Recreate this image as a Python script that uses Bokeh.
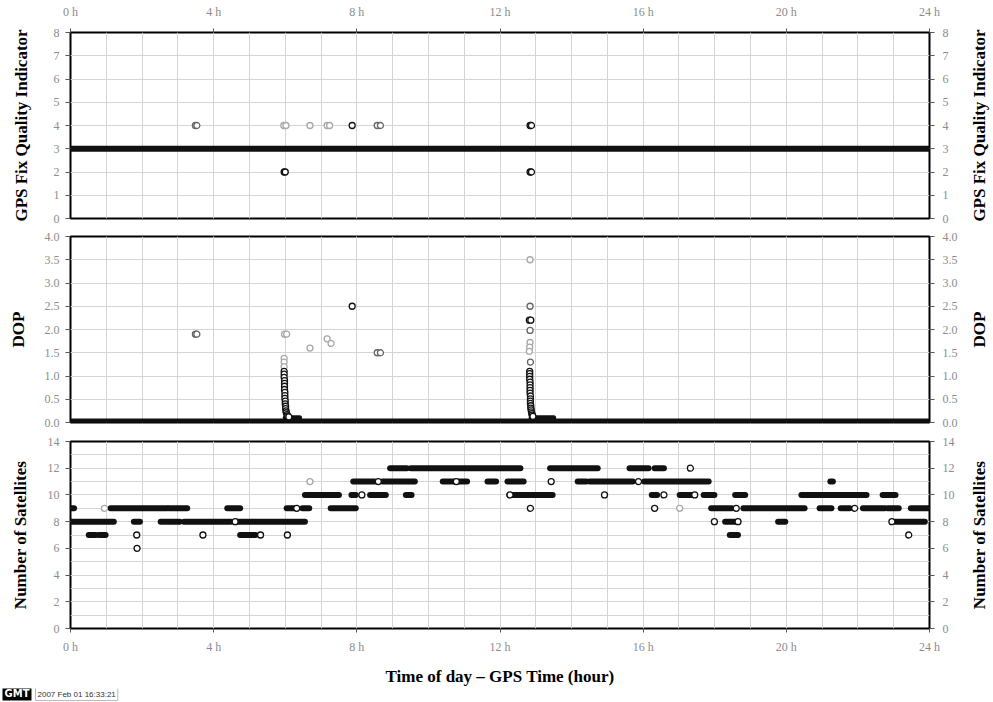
import math
from bokeh.plotting import figure
from bokeh.models import (Range1d, LinearAxis, FixedTicker, ColumnDataSource, Label, Grid)
from bokeh.layouts import column, row
from bokeh.embed import file_html
from bokeh.resources import INLINE

# ---------------- data ----------------
hour_ticks = [0, 4, 8, 12, 16, 20, 24]
hour_labels = ["0 h", "4 h", "8 h", "12 h", "16 h", "20 h", "24 h"]
hour_minor = list(range(0, 25))

fix_ticks = [0, 1, 2, 3, 4, 5, 6, 7, 8]
fix_labels = ["0", "1", "2", "3", "4", "5", "6", "7", "8"]
dop_ticks = [0.0, 0.5, 1.0, 1.5, 2.0, 2.5, 3.0, 3.5, 4.0]
dop_labels = ["0.0", "0.5", "1.0", "1.5", "2.0", "2.5", "3.0", "3.5", "4.0"]
sat_ticks = [0, 2, 4, 6, 8, 10, 12, 14]
sat_labels = ["0", "2", "4", "6", "8", "10", "12", "14"]
sat_minor = list(range(0, 15))

fix_title = "GPS Fix Quality Indicator"
dop_title = "DOP"
sat_title = "Number of Satellites"
x_title = "Time of day \u2013 GPS Time (hour)"
logo_text = "GMT"
stamp_text = "2007 Feb 01 16:33:21"

# GPS fix quality indicator
fix_run_start = [0.0]
fix_run_end = [24.0]
fix_run_value = [3]
fix_dark_t = [7.87, 12.84, 12.88, 5.97, 6.00, 12.84, 12.88]
fix_dark_v = [4, 4, 4, 2, 2, 2, 2]
fix_mid_t = [3.49, 3.53, 8.57, 8.66]
fix_mid_v = [4, 4, 4, 4]
fix_light_t = [5.96, 6.02, 6.69, 7.17, 7.24]
fix_light_v = [4, 4, 4, 4, 4]

# DOP
dop_run_start = [0.0, 6.00, 12.87]
dop_run_end = [24.0, 6.40, 13.50]
dop_run_value = [0.03, 0.10, 0.10]
dop_dark_t = [7.87, 12.82, 12.86,
              5.97, 5.97, 5.97, 5.98, 5.98, 5.98, 5.98, 5.99, 5.99, 5.99,
              6.00, 6.00, 6.01, 6.01, 6.02, 6.03, 6.05, 6.07, 6.10,
              12.83, 12.83, 12.83, 12.83, 12.84, 12.84, 12.84, 12.84, 12.84, 12.85,
              12.85, 12.85, 12.85, 12.86, 12.86, 12.87, 12.88, 12.89, 12.90, 12.92]
dop_dark_v = [2.5, 2.2, 2.2,
              1.10, 1.04, 0.97, 0.90, 0.84, 0.78, 0.71, 0.65, 0.58, 0.52,
              0.46, 0.40, 0.35, 0.30, 0.25, 0.21, 0.17, 0.14, 0.12,
              1.10, 1.05, 0.99, 0.93, 0.87, 0.81, 0.75, 0.69, 0.63, 0.57,
              0.51, 0.46, 0.41, 0.36, 0.31, 0.27, 0.23, 0.19, 0.16, 0.13]
dop_mid_t = [3.49, 3.53, 8.57, 8.66, 12.84, 12.85, 12.84]
dop_mid_v = [1.9, 1.9, 1.5, 1.5, 2.5, 1.3, 1.98]
dop_light_t = [5.98, 6.04, 6.69, 7.17, 7.28, 12.84, 12.84, 12.83, 12.82, 5.97, 5.97, 5.97]
dop_light_v = [1.9, 1.9, 1.6, 1.8, 1.7, 3.5, 1.72, 1.62, 1.53, 1.38, 1.30, 1.20]

# Number of satellites: runs of constant count
sat_run_start = [0.00, 1.12, 2.75, 4.38, 6.04, 6.48, 7.27, 17.90, 18.80, 20.93, 21.52, 22.14, 22.83, 23.48,
                 0.00, 1.77, 2.52, 3.17, 4.60, 18.29, 19.77, 22.95,
                 0.51, 0.79, 4.74, 4.95, 18.42,
                 6.55, 7.85, 8.37, 9.37, 12.26, 16.24, 17.02, 17.69, 18.57, 20.42, 22.69,
                 7.90, 8.72, 9.09, 10.40, 10.86, 11.65, 12.21, 14.17, 14.50, 16.03, 21.23,
                 8.93, 9.51, 13.40, 15.62, 16.32]
sat_run_end = [0.10, 2.70, 3.26, 4.74, 6.25, 6.67, 7.97, 18.48, 20.51, 21.26, 21.77, 22.75, 23.14, 24.00,
               1.21, 1.94, 3.05, 4.48, 6.55, 18.65, 19.97, 23.87,
               0.70, 0.98, 4.90, 5.17, 18.65,
               7.50, 7.97, 8.81, 9.53, 13.47, 16.39, 17.44, 17.99, 18.85, 22.24, 23.05,
               8.50, 9.03, 9.62, 10.74, 11.08, 11.89, 12.66, 14.41, 15.71, 17.83, 21.30,
               9.40, 12.57, 14.73, 16.15, 16.58]
sat_run_value = [9, 9, 9, 9, 9, 9, 9, 9, 9, 9, 9, 9, 9, 9,
                 8, 8, 8, 8, 8, 8, 8, 8,
                 7, 7, 7, 7, 7,
                 10, 10, 10, 10, 10, 10, 10, 10, 10, 10, 10,
                 11, 11, 11, 11, 11, 11, 11, 11, 11, 11, 11,
                 12, 12, 12, 12, 12]
sat_dark_t = [1.85, 1.86, 3.70, 4.60, 5.31, 6.06, 6.32, 8.14, 8.60, 10.78, 12.85, 13.43, 14.92,
              15.87, 16.32, 16.58, 17.32, 17.44, 17.99, 18.60, 18.65, 21.91, 23.42, 22.95, 12.28]
sat_dark_v = [7, 6, 7, 8, 7, 7, 9, 10, 11, 11, 9, 11, 10,
              11, 9, 10, 12, 10, 8, 9, 8, 9, 7, 8, 10]
sat_light_t = [0.95, 6.69, 17.02]
sat_light_v = [9, 11, 9]

# ---------------- styling ----------------
SERIF = "Liberation Serif"
TICK_COLOR = "#8c8c8c"
DARK = "#111111"
MID = "#666666"
LIGHT = "#a8a8a8"
GRID = "#d4d4d4"
FRAME_W = 859
LEFT_B = 70
RIGHT_B = 37
STRIP_W = 27

# panel geometry: (y max, frame height, top border, bottom border)
P1 = (8, 186, 32, 9)
P2 = (4, 186, 9, 10)
P3 = (14, 187, 9, 60)


def make_panel(geom):
    y_max, frame_h, top_b, bottom_b = geom
    p = figure(width=LEFT_B + FRAME_W + RIGHT_B, height=top_b + frame_h + bottom_b,
               x_range=Range1d(0, 24), y_range=Range1d(0, y_max),
               x_axis_type=None, y_axis_type=None, title=None,
               output_backend="svg", toolbar_location=None,
               min_border_left=LEFT_B, min_border_right=RIGHT_B,
               min_border_top=top_b, min_border_bottom=bottom_b)
    p.outline_line_color = "black"
    p.outline_line_width = 2
    p.background_fill_color = "white"
    p.border_fill_color = "white"
    return p


def make_strip(width, height):
    s = figure(width=width, height=height,
               x_range=Range1d(0, width), y_range=Range1d(0, height),
               x_axis_type=None, y_axis_type=None, title=None,
               output_backend="svg", toolbar_location=None,
               min_border_left=0, min_border_right=0,
               min_border_top=0, min_border_bottom=0)
    s.outline_line_color = None
    s.background_fill_color = "white"
    s.border_fill_color = "white"
    return s


def add_grid(p, yt, ymin):
    xg = Grid(dimension=0, ticker=FixedTicker(ticks=hour_ticks, minor_ticks=hour_minor),
              grid_line_color=GRID, minor_grid_line_color=GRID)
    yg = Grid(dimension=1, ticker=FixedTicker(ticks=yt, minor_ticks=ymin),
              grid_line_color=GRID, minor_grid_line_color=GRID)
    p.add_layout(xg, "center")
    p.add_layout(yg, "center")


def x_axis(p, side, standoff, title=None):
    ax = LinearAxis(ticker=FixedTicker(ticks=hour_ticks))
    ax.major_label_overrides = dict(zip(hour_ticks, hour_labels))
    ax.axis_line_color = None
    ax.major_tick_out = 4
    ax.major_tick_in = 0
    ax.major_tick_line_color = "#555555"
    ax.minor_tick_line_color = None
    ax.major_label_text_font = SERIF
    ax.major_label_text_font_size = "12px"
    ax.major_label_text_color = TICK_COLOR
    ax.major_label_standoff = standoff
    if title:
        ax.axis_label = title
        ax.axis_label_text_font = SERIF
        ax.axis_label_text_font_style = "bold"
        ax.axis_label_text_font_size = "17px"
        ax.axis_label_text_color = "black"
        ax.axis_label_standoff = 10
    p.add_layout(ax, side)


def y_axis(p, side, ticks, labels, title, standoff):
    ax = LinearAxis(ticker=FixedTicker(ticks=ticks))
    ax.major_label_overrides = dict(zip(ticks, labels))
    ax.axis_line_color = None
    ax.major_tick_out = 5
    ax.major_tick_in = 0
    ax.major_tick_line_color = "#555555"
    ax.minor_tick_line_color = None
    ax.major_label_text_font = SERIF
    ax.major_label_text_font_size = "12px"
    ax.major_label_text_color = TICK_COLOR
    ax.major_label_standoff = 6 if side == "left" else 8
    if title:
        ax.axis_label = title
        ax.axis_label_text_font = SERIF
        ax.axis_label_text_font_style = "bold"
        ax.axis_label_text_font_size = "17px"
        ax.axis_label_text_color = "black"
        ax.axis_label_standoff = standoff
    p.add_layout(ax, side)


def draw_runs(p, start, end, val, width):
    src = ColumnDataSource(dict(x0=start, x1=end, y=val))
    p.segment(x0="x0", y0="y", x1="x1", y1="y", source=src,
              line_color=DARK, line_width=width, line_cap="round")


def draw_points(p, t, v, color, size=6):
    p.scatter(x=t, y=v, marker="circle", size=size, fill_color="white",
              line_color=color, line_width=1.3)


# ---------------- panel 1: fix quality ----------------
p1 = make_panel(P1)
add_grid(p1, fix_ticks, [])
x_axis(p1, "above", 10)
y_axis(p1, "left", fix_ticks, fix_labels, fix_title, 20)
y_axis(p1, "right", fix_ticks, fix_labels, None, 0)
draw_runs(p1, fix_run_start, fix_run_end, fix_run_value, 6)
draw_points(p1, fix_light_t, fix_light_v, LIGHT)
draw_points(p1, fix_mid_t, fix_mid_v, MID)
draw_points(p1, fix_dark_t, fix_dark_v, DARK)

# ---------------- panel 2: DOP ----------------
p2 = make_panel(P2)
add_grid(p2, dop_ticks, [])
y_axis(p2, "left", dop_ticks, dop_labels, dop_title, 14)
y_axis(p2, "right", dop_ticks, dop_labels, None, 0)
draw_runs(p2, dop_run_start, dop_run_end, dop_run_value, 5)
draw_points(p2, dop_light_t, dop_light_v, LIGHT)
draw_points(p2, dop_mid_t, dop_mid_v, MID)
draw_points(p2, dop_dark_t, dop_dark_v, DARK)

# ---------------- panel 3: satellites ----------------
p3 = make_panel(P3)
add_grid(p3, sat_ticks, sat_minor)
x_axis(p3, "below", 7, x_title)
y_axis(p3, "left", sat_ticks, sat_labels, sat_title, 15)
y_axis(p3, "right", sat_ticks, sat_labels, None, 0)
draw_runs(p3, sat_run_start, sat_run_end, sat_run_value, 6)
draw_points(p3, sat_light_t, sat_light_v, LIGHT)
draw_points(p3, sat_dark_t, sat_dark_v, DARK)

# ---------------- right-hand axis titles (one tall strip) ----------------
heights = [g[2] + g[1] + g[3] for g in (P1, P2, P3)]
strip_h = sum(heights)
strip = make_strip(STRIP_W, strip_h)
top_acc = 0
for geom, h, text in zip((P1, P2, P3), heights, (fix_title, dop_title, sat_title)):
    center_from_top = top_acc + geom[2] + geom[1] / 2
    strip.add_layout(Label(x=13, y=strip_h - center_from_top, text=text, angle=math.pi / 2,
                           text_align="center", text_baseline="middle",
                           text_font=SERIF, text_font_style="bold",
                           text_font_size="17px", text_color="black"))
    top_acc += h

# ---------------- footer: GMT time stamp ----------------
p4 = make_strip(993, 14)
p4.add_layout(Label(x=2, y=2, text=logo_text, text_color="white",
                    background_fill_color="black", text_font="DejaVu Sans",
                    text_font_style="bold", text_font_size="10px", padding=2))
p4.add_layout(Label(x=35, y=2, text=stamp_text, text_color="#333333",
                    background_fill_color="white", border_line_color="#bbbbbb",
                    text_font="Liberation Sans", text_font_size="8px", padding=2))

layout = column(row(column(p1, p2, p3, spacing=0), strip, spacing=0), p4, spacing=0)
open("out.html", "w").write(file_html(layout, INLINE))
